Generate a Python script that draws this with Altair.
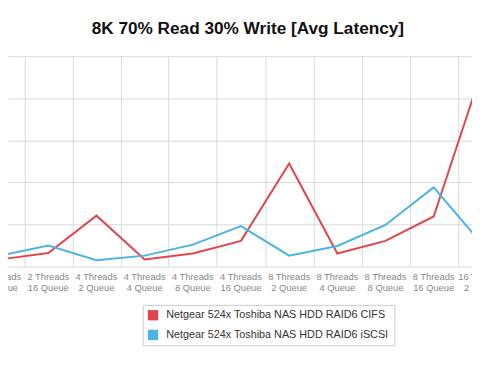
import altair as alt
import pandas as pd

categories = [
    "2 Threads\n8 Queue", "2 Threads\n16 Queue", "4 Threads\n2 Queue", "4 Threads\n4 Queue",
    "4 Threads\n8 Queue", "4 Threads\n16 Queue", "8 Threads\n2 Queue", "8 Threads\n4 Queue",
    "8 Threads\n8 Queue", "8 Threads\n16 Queue", "16 Threads\n2 Queue",
]
cifs = [1.7, 3.2, 12.1, 1.7, 3.1, 6.1, 24.5, 3.1, 6.1, 11.9, 46.5]
iscsi = [2.6, 5.0, 1.5, 2.6, 5.2, 9.6, 2.6, 4.9, 9.9, 18.8, 5.4]
series_names = [
    "Netgear 524x Toshiba NAS HDD RAID6 CIFS",
    "Netgear 524x Toshiba NAS HDD RAID6 iSCSI",
]
colors = ["#e0474c", "#4ab4e6"]

rows = []
for i, c in enumerate(categories):
    rows.append({"idx": i, "cat": c, "series": series_names[0], "value": cifs[i]})
    rows.append({"idx": i, "cat": c, "series": series_names[1], "value": iscsi[i]})
df = pd.DataFrame(rows)
cat_df = pd.DataFrame({"idx": list(range(len(categories))), "cat": categories})

W, H = 472, 214
x_scale = alt.Scale(domain=[8 / 49, 8 / 49 + W / 49], nice=False, zero=False)
y_scale = alt.Scale(domain=[0, 50], nice=False)
color_scale = alt.Scale(domain=series_names, range=colors)
FONT = "Liberation Sans"

lines = alt.Chart(df).mark_line(clip=True, strokeWidth=2).encode(
    x=alt.X("idx:Q", scale=x_scale,
            axis=alt.Axis(values=[i + 0.5 for i in range(0, 10)], labels=False, ticks=False,
                          domain=False, title=None, grid=True)),
    y=alt.Y("value:Q", scale=y_scale,
            axis=alt.Axis(values=[0, 10, 20, 30, 40, 50], labels=False, ticks=False,
                          domain=False, title=None, grid=True)),
    color=alt.Color("series:N", scale=color_scale, legend=None),
)

legend_layer = alt.Chart(df).mark_square(clip=True, size=100, opacity=1, filled=True).encode(
    x=alt.datum(-100),
    y=alt.Y("value:Q", scale=y_scale),
    color=alt.Color("series:N", scale=color_scale,
                    legend=alt.Legend(title=None, orient="none", legendX=137, legendY=253,
                                      symbolType="square", symbolSize=110, symbolStrokeWidth=0,
                                      symbolOpacity=1,
                                      labelFont=FONT, labelFontSize=11, labelColor="#333",
                                      labelLimit=400, labelOffset=8, rowPadding=8, padding=5,
                                      strokeColor="#cccccc", fillColor="white")),
)

labels = alt.Chart(cat_df).mark_text(
    baseline="top", align="center", lineBreak="\n", fontSize=9.5, lineHeight=11,
    color="#888888", font=FONT,
).encode(
    x=alt.X("idx:Q", scale=x_scale),
    y=alt.value(H + 6),
    text="cat:N",
)

chart = alt.layer(lines, legend_layer, labels).resolve_legend(color="independent").properties(
    width=W, height=H,
    autosize=alt.AutoSizeParams(type="none"),
    padding={"left": 0, "top": 46, "right": 0, "bottom": 90},
    title=alt.TitleParams("8K 70% Read 30% Write [Avg Latency]", font=FONT, fontSize=17.5,
                          fontWeight="bold", color="#111", anchor="middle", baseline="alphabetic",
                          offset=5, dx=8),
).configure_axis(gridColor="#d9d9d9", gridOpacity=1).configure_view(stroke=None)

chart.save("out.html", embed_options={"renderer": "svg", "actions": False})
